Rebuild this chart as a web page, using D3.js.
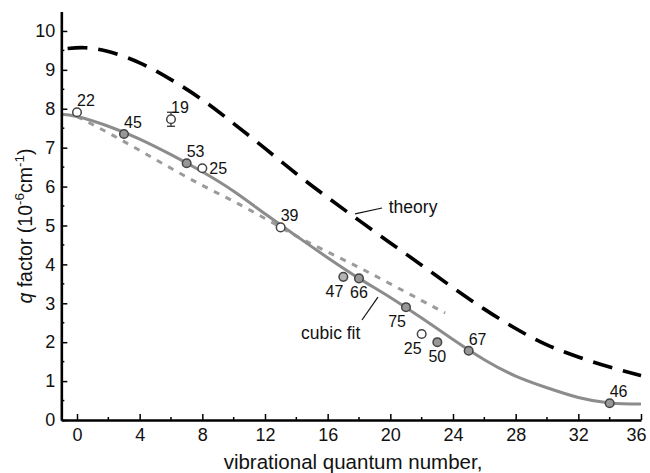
<!DOCTYPE html>
<html>
<head>
<meta charset="utf-8">
<script src="https://cdn.jsdelivr.net/npm/d3@7"></script>
<style>
  html, body { margin: 0; padding: 0; background: #fff; }
  svg { display: block; font-family: "Liberation Sans", Arial, Helvetica, sans-serif; }
</style>
</head>
<body>
<svg id="chart" width="650" height="473"></svg>
<script>
// Measured q factors per vibrational level
const levels   = [0, 3, 6, 7, 8, 13, 17, 18, 21, 22, 23, 25, 34];
const qValues  = [7.91, 7.35, 7.73, 6.60, 6.47, 4.95, 3.68, 3.64, 2.90, 2.21, 2.00, 1.78, 0.43];
const qErrors  = [0, 0, 0.18, 0, 0, 0, 0, 0, 0, 0, 0, 0, 0];
const counts   = [22, 45, 19, 53, 25, 39, 47, 66, 75, 25, 50, 67, 46];
const markType = ["open", "filled", "open", "filled", "open", "open", "light", "filled", "filled", "open", "filled", "filled", "filled"];
const labelSide = ["above", "above", "above", "above", "right", "above", "belowLeft", "below", "belowLeft", "belowLeft", "below", "above", "above"];

// Cubic fit curve (solid grey)
const fitV = [-1, 0, 2, 4, 6, 8, 10, 12, 14, 16, 18, 20, 22, 24, 26, 28, 30, 32, 34, 36];
const fitQ = [7.86, 7.80, 7.55, 7.22, 6.82, 6.38, 5.88, 5.30, 4.73, 4.17, 3.64, 3.15, 2.62, 2.07, 1.55, 1.13, 0.83, 0.58, 0.44, 0.41];

// Earlier fit (short grey dashes)
const prevV = [0, 2, 4, 6, 8, 10, 12, 14, 16, 18, 20, 22, 23.5];
const prevQ = [7.80, 7.38, 6.93, 6.47, 6.03, 5.62, 5.18, 4.73, 4.32, 3.92, 3.50, 3.07, 2.75];

// Theoretical prediction (black dashes)
const theoryV = [-0.6, 0.5, 2, 4, 6, 8, 10, 12, 14, 16, 18, 20, 22, 24, 26, 28, 30, 32, 34, 36];
const theoryQ = [9.55, 9.57, 9.47, 9.18, 8.75, 8.23, 7.62, 6.98, 6.33, 5.72, 5.13, 4.55, 3.98, 3.40, 2.85, 2.35, 1.93, 1.62, 1.36, 1.14];

// Axis ticks
const xMajorTicks = [0, 4, 8, 12, 16, 20, 24, 28, 32, 36];
const xMinorTicks = [2, 6, 10, 14, 18, 22, 26, 30, 34];
const yMajorTicks = [0, 1, 2, 3, 4, 5, 6, 7, 8, 9, 10];
const yMinorTicks = [0.5, 1.5, 2.5, 3.5, 4.5, 5.5, 6.5, 7.5, 8.5, 9.5];

// Curve annotations: text anchor and leader line, in data units
const annotText  = ["theory", "cubic fit"];
const annotAt    = [[19.9, 5.32], [14.3, 2.08]];
const annotLeadA = [[17.75, 5.30], [18.19, 2.57]];
const annotLeadB = [[19.47, 5.45], [19.21, 3.16]];

const svg = d3.select("#chart");
const x = d3.scaleLinear().domain([-1, 36]).range([61.33, 641]);
const y = d3.scaleLinear().domain([0, 10.5]).range([420, 11.5]);

// ---- curves ----
const line = d3.line().x(d => x(d[0])).y(d => y(d[1])).curve(d3.curveNatural);

svg.append("path")
  .datum(theoryV.map((v, i) => [v, theoryQ[i]]))
  .attr("d", line)
  .attr("fill", "none").attr("stroke", "#000")
  .attr("stroke-width", 3.6).attr("stroke-dasharray", "20,11");

svg.append("path")
  .datum(prevV.map((v, i) => [v, prevQ[i]]))
  .attr("d", line)
  .attr("fill", "none").attr("stroke", "#9b9b9b")
  .attr("stroke-width", 3).attr("stroke-dasharray", "6,7");

svg.append("path")
  .datum(fitV.map((v, i) => [v, fitQ[i]]))
  .attr("d", line)
  .attr("fill", "none").attr("stroke", "#8c8c8c")
  .attr("stroke-width", 3);

// ---- axes ----
const xAxis = svg.append("g").attr("transform", `translate(0,${y(0)})`);
xAxis.call(d3.axisBottom(x).tickValues(xMajorTicks).tickSize(-6).tickPadding(8).tickSizeOuter(0));
xAxis.append("g").selectAll("line").data(xMinorTicks).join("line")
  .attr("x1", d => x(d)).attr("x2", d => x(d)).attr("y1", 0).attr("y2", -3)
  .attr("stroke", "#000").attr("stroke-width", 1.5);

const yAxis = svg.append("g").attr("transform", `translate(${x(-1)},0)`);
yAxis.call(d3.axisLeft(y).tickValues(yMajorTicks).tickSize(-6).tickPadding(6).tickSizeOuter(0));
yAxis.append("g").selectAll("line").data(yMinorTicks).join("line")
  .attr("y1", d => y(d)).attr("y2", d => y(d)).attr("x1", 0).attr("x2", 3)
  .attr("stroke", "#000").attr("stroke-width", 1.5);

[xAxis, yAxis].forEach(g => {
  g.select(".domain").attr("stroke", "#000").attr("stroke-width", 2.6);
  g.selectAll(".tick line").attr("stroke", "#000").attr("stroke-width", 1.5);
  g.selectAll(".tick text").attr("fill", "#111")
    .attr("font-size", 18).attr("font-family", "Liberation Sans, Arial, sans-serif");
});
// keep the last x label inside the frame
xAxis.selectAll(".tick text").filter(d => d === 36)
  .attr("text-anchor", "end").attr("x", 5);

// ---- axis titles ----
svg.append("text")
  .attr("x", 353).attr("y", 469)
  .attr("text-anchor", "middle").attr("font-size", 20.5).attr("fill", "#111")
  .text("vibrational quantum number,");

const yTitle = svg.append("text")
  .attr("transform", "translate(32,226) rotate(-90)")
  .attr("text-anchor", "middle").attr("font-size", 19.5).attr("fill", "#111");
yTitle.append("tspan").attr("font-style", "italic").text("q");
yTitle.append("tspan").text(" factor (10");
yTitle.append("tspan").attr("font-size", 13.5).attr("dy", -8).text("-6");
yTitle.append("tspan").attr("dy", 8).text("cm");
yTitle.append("tspan").attr("font-size", 13.5).attr("dy", -8).text("-1");
yTitle.append("tspan").attr("dy", 8).text(")");

// ---- data points ----
const pts = levels.map((v, i) => ({
  v, q: qValues[i], err: qErrors[i], n: counts[i], type: markType[i], side: labelSide[i]
}));

const ptG = svg.append("g");
pts.filter(d => d.err > 0).forEach(d => {
  const g = ptG.append("g").attr("stroke", "#333").attr("stroke-width", 1.3);
  g.append("line").attr("x1", x(d.v)).attr("x2", x(d.v)).attr("y1", y(d.q - d.err)).attr("y2", y(d.q + d.err));
  g.append("line").attr("x1", x(d.v) - 4).attr("x2", x(d.v) + 4).attr("y1", y(d.q - d.err)).attr("y2", y(d.q - d.err));
  g.append("line").attr("x1", x(d.v) - 4).attr("x2", x(d.v) + 4).attr("y1", y(d.q + d.err)).attr("y2", y(d.q + d.err));
});

const fillOf = { open: "#fff", filled: "#979797", light: "#b4b4b4" };
ptG.selectAll("circle").data(pts).join("circle")
  .attr("cx", d => x(d.v)).attr("cy", d => y(d.q)).attr("r", 4.3)
  .attr("fill", d => fillOf[d.type])
  .attr("stroke", "#444").attr("stroke-width", 1.5);

// count labels beside each point
const place = {
  above:     { dx: 0,  dy: -6,  anchor: "start" },
  right:     { dx: 7,  dy: 6,   anchor: "start" },
  below:     { dx: 0,  dy: 20, anchor: "middle" },
  belowLeft: { dx: 0,  dy: 20, anchor: "end" }
};
svg.append("g").selectAll("text").data(pts).join("text")
  .attr("x", d => x(d.v) + place[d.side].dx)
  .attr("y", d => y(d.q) + place[d.side].dy)
  .attr("text-anchor", d => place[d.side].anchor)
  .attr("font-size", 16).attr("fill", "#111")
  .text(d => d.n);

// ---- curve annotations ----
const ann = svg.append("g");
annotText.forEach((t, i) => {
  ann.append("line")
    .attr("x1", x(annotLeadA[i][0])).attr("y1", y(annotLeadA[i][1]))
    .attr("x2", x(annotLeadB[i][0])).attr("y2", y(annotLeadB[i][1]))
    .attr("stroke", "#111").attr("stroke-width", 1.2);
  ann.append("text")
    .attr("x", x(annotAt[i][0])).attr("y", y(annotAt[i][1]))
    .attr("font-size", 17.5).attr("fill", "#111")
    .text(t);
});
</script>
</body>
</html>
